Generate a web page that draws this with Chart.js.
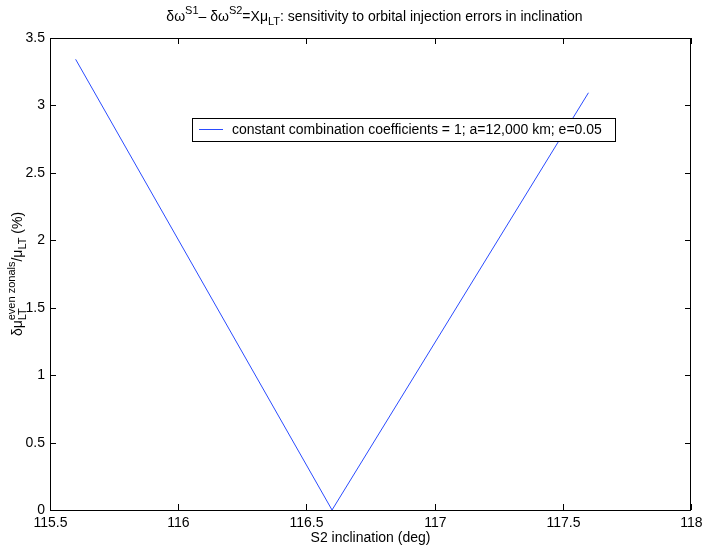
<!DOCTYPE html>
<html lang="en">
  <head>
    <meta charset="UTF-8" />
    <title>Sensitivity to orbital injection errors</title>
    <script src="https://cdn.jsdelivr.net/npm/chart.js"></script>
    <style>
      html, body {
        margin: 0;
        padding: 0;
        background: #fff;
      }
      #wrap {
        width: 708px;
        height: 545px;
      }
    </style>
  </head>
  <body>
    <div id="wrap"><canvas id="chart"></canvas></div>

    <script>
      // data
      const inclination = [115.6, 116.6, 117.6];
      const sensitivity = [3.342, 0, 3.094];
      const seriesLabel = "constant combination coefficients = 1; a=12,000 km; e=0.05";
      const xRange = [115.5, 118];
      const yRange = [0, 3.5];
      const tickStep = 0.5;

      const FONT = '"Liberation Sans", Arial, sans-serif';
      const MAIN = "14px " + FONT;
      const SCRIPT = "11px " + FONT;

      // text with sub/superscripts, parts = [{t, sub, sup}]
      function richWidth(ctx, parts) {
        let w = 0;
        parts.forEach((p) => {
          ctx.font = MAIN;
          w += ctx.measureText(p.t).width;
          ctx.font = SCRIPT;
          const a = p.sub ? ctx.measureText(p.sub).width : 0;
          const b = p.sup ? ctx.measureText(p.sup).width : 0;
          w += Math.max(a, b);
        });
        return w;
      }

      function drawRich(ctx, parts, x, y) {
        ctx.textBaseline = "alphabetic";
        ctx.textAlign = "left";
        parts.forEach((p) => {
          ctx.font = MAIN;
          ctx.fillText(p.t, x, y);
          x += ctx.measureText(p.t).width;
          ctx.font = SCRIPT;
          let adv = 0;
          if (p.sup) {
            ctx.fillText(p.sup, x, y - 7);
            adv = ctx.measureText(p.sup).width;
          }
          if (p.sub) {
            ctx.fillText(p.sub, x, y + 4);
            adv = Math.max(adv, ctx.measureText(p.sub).width);
          }
          x += adv;
        });
      }

      const titleParts = [
        { t: "δω", sup: "S1" },
        { t: "– δω", sup: "S2" },
        { t: "=Xμ", sub: "LT" },
        { t: ": sensitivity to orbital injection errors in inclination" },
      ];
      const yLabelParts = [
        { t: "δμ", sub: "LT", sup: "even zonals" },
        { t: "/μ", sub: "LT" },
        { t: " (%)" },
      ];

      const matlabAxes = {
        id: "matlabAxes",
        afterDraw(chart) {
          const ctx = chart.ctx;
          const a = chart.chartArea;
          const xs = chart.scales.x;
          const ys = chart.scales.y;
          const tl = 6;
          ctx.save();
          ctx.strokeStyle = "#000";
          ctx.fillStyle = "#000";
          ctx.lineWidth = 1;

          // frame
          ctx.strokeRect(a.left + 0.5, a.top + 0.5, a.right - a.left - 1, a.bottom - a.top);

          // x ticks + labels
          ctx.font = MAIN;
          ctx.textAlign = "center";
          ctx.textBaseline = "middle";
          xs.ticks.forEach((t) => {
            const px = Math.round(xs.getPixelForValue(t.value)) + 0.5;
            ctx.beginPath();
            ctx.moveTo(px, a.bottom);
            ctx.lineTo(px, a.bottom - tl);
            ctx.moveTo(px, a.top);
            ctx.lineTo(px, a.top + tl);
            ctx.stroke();
            ctx.fillText(String(t.value), px, a.bottom + 13);
          });

          // y ticks + labels
          ctx.textAlign = "right";
          ys.ticks.forEach((t) => {
            const py = Math.round(ys.getPixelForValue(t.value)) + 0.5;
            ctx.beginPath();
            ctx.moveTo(a.left, py);
            ctx.lineTo(a.left + tl, py);
            ctx.moveTo(a.right, py);
            ctx.lineTo(a.right - tl, py);
            ctx.stroke();
            ctx.fillText(String(t.value), a.left - 5, py);
          });

          const cx = (a.left + a.right) / 2;
          const cy = (a.top + a.bottom) / 2;

          // x label
          ctx.textAlign = "center";
          ctx.fillText("S2 inclination (deg)", cx, a.bottom + 28);

          // title
          const tw = richWidth(ctx, titleParts);
          drawRich(ctx, titleParts, cx - tw / 2 + 4, 21);

          // y label, rotated
          ctx.save();
          const yw = richWidth(ctx, yLabelParts);
          ctx.translate(22, cy);
          ctx.rotate(-Math.PI / 2);
          drawRich(ctx, yLabelParts, -yw / 2, 0);
          ctx.restore();

          // legend box
          const ds = chart.data.datasets[0];
          const bx = 192, by = 118, bw = 423, bh = 23;
          ctx.fillStyle = "#fff";
          ctx.fillRect(bx, by, bw, bh);
          ctx.strokeStyle = "#000";
          ctx.strokeRect(bx + 0.5, by + 0.5, bw, bh);
          ctx.strokeStyle = ds.borderColor;
          ctx.beginPath();
          ctx.moveTo(199, by + 11.5);
          ctx.lineTo(223, by + 11.5);
          ctx.stroke();
          ctx.fillStyle = "#000";
          ctx.font = MAIN;
          ctx.textAlign = "left";
          ctx.textBaseline = "middle";
          ctx.fillText(ds.label, 232, by + 12);

          ctx.restore();
        },
      };

      new Chart(document.getElementById("chart"), {
        type: "scatter",
        data: {
          datasets: [
            {
              label: seriesLabel,
              data: inclination.map((x, i) => ({ x: x, y: sensitivity[i] })),
              showLine: true,
              borderColor: "#2a4bff",
              borderWidth: 1,
              pointRadius: 0,
              fill: false,
            },
          ],
        },
        options: {
          responsive: true,
          maintainAspectRatio: false,
          animation: false,
          layout: { padding: { left: 50, right: 17, top: 38, bottom: 35 } },
          plugins: {
            legend: { display: false },
            tooltip: { enabled: false },
          },
          scales: {
            x: {
              type: "linear",
              min: xRange[0],
              max: xRange[1],
              ticks: { stepSize: tickStep, display: false },
              grid: { display: false },
              border: { display: false },
              afterFit: (s) => { s.height = 0; },
            },
            y: {
              type: "linear",
              min: yRange[0],
              max: yRange[1],
              ticks: { stepSize: tickStep, display: false },
              grid: { display: false },
              border: { display: false },
              afterFit: (s) => { s.width = 0; },
            },
          },
        },
        plugins: [matlabAxes],
      });
    </script>
  </body>
</html>
